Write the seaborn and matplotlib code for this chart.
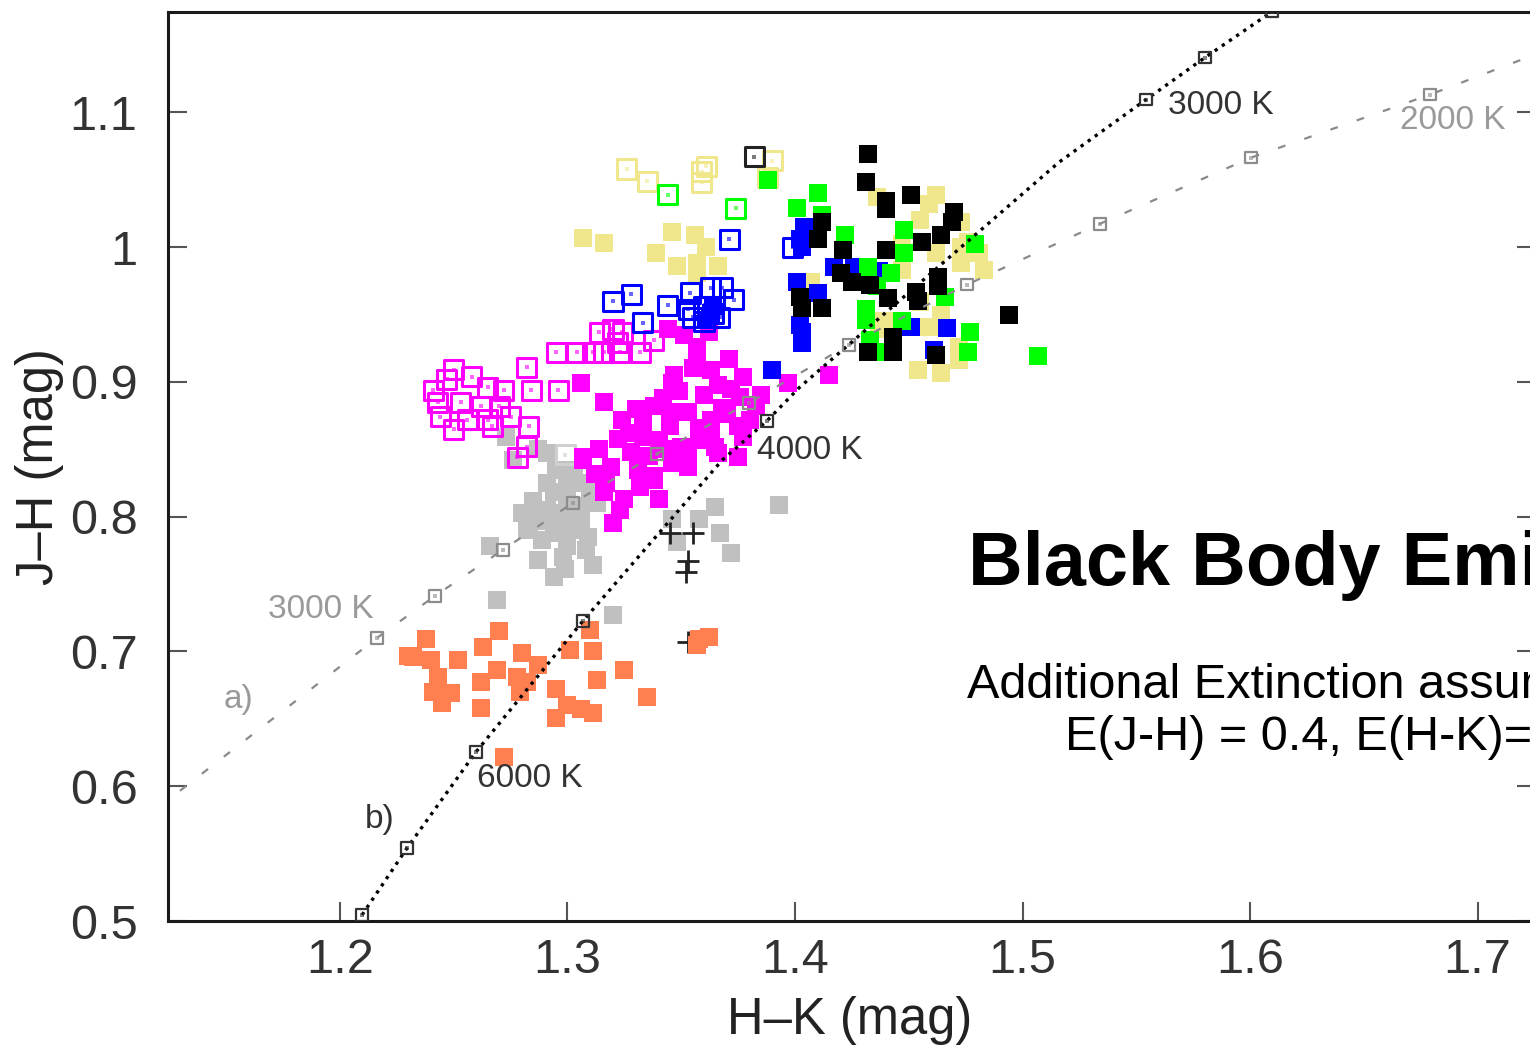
import matplotlib
matplotlib.use("Agg")
import matplotlib.pyplot as plt
import seaborn as sns

# ---------------- data (H-K, J-H in mag) ----------------
coral_hk = [1.270,1.238,1.232,1.240,1.252,1.263,1.243,1.241,1.249,1.245,1.262,1.269,1.280,1.287,1.278,1.282,1.279,1.262,1.295,1.295,1.300,1.306,1.311,1.310,1.301,1.311,1.313,1.325,1.335,1.358,1.362,1.357,1.272,1.230]
coral_jh = [0.715,0.709,0.696,0.694,0.694,0.703,0.681,0.670,0.669,0.662,0.677,0.686,0.699,0.690,0.681,0.677,0.670,0.658,0.672,0.651,0.660,0.657,0.654,0.716,0.701,0.700,0.679,0.686,0.666,0.709,0.711,0.705,0.622,0.697]

grey_hk = [1.291,1.300,1.294,1.306,1.287,1.297,1.306,1.294,1.287,1.294,1.311,1.300,1.266,1.269,1.320,1.365,1.358,1.346,1.348,1.367,1.372,1.393,1.287,1.289,1.309,1.313,1.273,1.276,1.303,1.310,1.291,1.283,1.301,1.299,
           1.295,1.291,1.300,1.285,1.303,1.296,1.290,1.305,1.298,1.308,1.282,1.280]
grey_jh = [0.847,0.827,0.818,0.825,0.798,0.803,0.798,0.788,0.768,0.755,0.764,0.778,0.778,0.738,0.727,0.807,0.798,0.798,0.781,0.788,0.773,0.809,0.850,0.783,0.785,0.810,0.859,0.842,0.835,0.820,0.805,0.794,0.790,0.761,
           0.835,0.825,0.815,0.812,0.800,0.793,0.797,0.808,0.770,0.775,0.790,0.803]
grey_open_hk = [1.299]
grey_open_jh = [0.846]

cross_hk = [1.345,1.355,1.353,1.352,1.353]
cross_jh = [0.788,0.788,0.767,0.759,0.707]

mag_f_hk = [1.344,1.306,1.316,1.357,1.371,1.363,1.377,1.346,1.349,1.366,1.397,1.338,1.353,1.368,1.383,1.376,1.324,1.333,1.345,1.363,1.375,1.377,1.327,1.363,1.366,1.375,1.353,1.343,1.333,1.314,1.307,1.319,1.331,1.338,1.353,1.317,1.325,1.316,1.340,1.338,1.320,1.415,1.357,1.351,1.362,1.358,1.340,1.307,
            1.330,1.345,1.358,1.370,1.350,1.336,1.322,1.360,1.372,1.385,1.347,1.355,1.342,1.328,1.346,1.365,1.380,1.332,1.312,1.323]
mag_f_jh = [0.939,0.899,0.885,0.922,0.917,0.909,0.904,0.899,0.893,0.898,0.899,0.882,0.878,0.881,0.882,0.889,0.872,0.872,0.867,0.872,0.867,0.859,0.862,0.862,0.847,0.844,0.844,0.850,0.859,0.850,0.842,0.837,0.835,0.830,0.837,0.825,0.813,0.818,0.813,0.827,0.795,0.905,0.926,0.935,0.937,0.857,0.857,0.844,
            0.880,0.878,0.866,0.876,0.852,0.845,0.858,0.890,0.895,0.890,0.905,0.910,0.888,0.848,0.840,0.852,0.872,0.822,0.832,0.805]

mag_o_hk = [1.295,1.282,1.304,1.311,1.296,1.284,1.250,1.267,1.283,1.282,1.278,1.244,1.247,1.250,1.258,1.265,1.272,1.241,1.243,1.253,1.262,1.270,1.275,1.256,1.265,1.314,1.324,1.316,1.323,1.332,1.338,1.322,1.320]
mag_o_jh = [0.922,0.911,0.922,0.922,0.894,0.894,0.865,0.867,0.867,0.852,0.844,0.874,0.902,0.909,0.904,0.896,0.894,0.894,0.885,0.885,0.882,0.882,0.874,0.872,0.872,0.937,0.937,0.922,0.922,0.922,0.931,0.929,0.939]

kha_f_hk = [1.307,1.316,1.346,1.356,1.339,1.361,1.348,1.357,1.366,1.357,1.462,1.459,1.455,1.473,1.476,1.473,1.447,1.462,1.481,1.483,1.473,1.447,1.407,1.455,1.464,1.439,1.459,1.472,1.472,1.454,1.464,1.436,1.437]
kha_f_jh = [1.007,1.003,1.011,1.009,0.996,1.000,0.986,0.988,0.986,0.981,1.039,1.032,1.020,1.019,1.004,1.000,1.002,0.996,0.996,0.983,0.988,0.983,0.974,0.959,0.950,0.945,0.941,0.926,0.916,0.909,0.907,1.037,0.939]
kha_o_hk = [1.326,1.335,1.359,1.361,1.359,1.390,1.388]
kha_o_jh = [1.058,1.049,1.056,1.060,1.048,1.064,1.052]

blue_o_hk = [1.371,1.399,1.320,1.328,1.333,1.344,1.354,1.363,1.368,1.373,1.353,1.360,1.364,1.355,1.367,1.360]
blue_o_jh = [1.006,1.000,0.960,0.965,0.944,0.957,0.966,0.970,0.970,0.961,0.954,0.956,0.951,0.948,0.948,0.945]
blue_f_hk = [1.364,1.363,1.361,1.390,1.404,1.403,1.417,1.426,1.401,1.403,1.403,1.451,1.467,1.461,1.437,1.410,1.402,1.402]
blue_f_jh = [0.956,0.951,0.946,0.909,1.015,1.000,0.985,0.985,0.974,0.937,0.929,0.941,0.940,0.924,0.982,0.966,0.942,1.006]

grn_f_hk = [1.410,1.401,1.412,1.422,1.448,1.479,1.432,1.436,1.442,1.431,1.447,1.431,1.466,1.477,1.507,1.433,1.435,1.476,1.448,1.388]
grn_f_jh = [1.040,1.029,1.024,1.009,1.013,1.002,0.985,0.971,0.981,0.954,0.945,0.946,0.963,0.937,0.919,0.931,0.922,0.922,0.996,1.050]
grn_o_hk = [1.344,1.374]
grn_o_jh = [1.039,1.029]

blk_f_hk = [1.432,1.431,1.440,1.451,1.440,1.470,1.469,1.464,1.456,1.412,1.410,1.421,1.440,1.420,1.425,1.433,1.441,1.453,1.454,1.463,1.463,1.402,1.403,1.412,1.432,1.443,1.443,1.462,1.494]
blk_f_jh = [1.069,1.048,1.034,1.039,1.028,1.026,1.019,1.009,1.004,1.019,1.006,0.998,0.998,0.981,0.974,0.972,0.962,0.967,0.960,0.978,0.971,0.963,0.955,0.955,0.922,0.922,0.933,0.920,0.950]
blk_o_hk = [1.382]
blk_o_jh = [1.067]

# black body tracks
a_hk = [1.120,1.2163,1.2418,1.2716,1.3024,1.3393,1.3798,1.4237,1.4756,1.5341,1.6004,1.6791,1.730]
a_jh = [0.584,0.7101,0.7413,0.7754,0.8103,0.8467,0.8846,0.9276,0.9722,1.0174,1.0664,1.1132,1.146]
a_mk_hk = a_hk[1:-1]
a_mk_jh = a_jh[1:-1]

b_hk = [1.2097,1.2295,1.2598,1.3068,1.368,1.3877,1.402,1.516,1.5543,1.5802,1.6097]
b_jh = [0.5045,0.5542,0.6255,0.7227,0.842,0.8712,0.896,1.063,1.1095,1.1407,1.1748]
b_mk_hk = [1.2097,1.2295,1.2598,1.3068,1.3877,1.5543,1.5802,1.6097]
b_mk_jh = [0.5045,0.5542,0.6255,0.7227,0.8712,1.1095,1.1407,1.1748]

x_ticks = [1.2, 1.3, 1.4, 1.5, 1.6, 1.7]
x_ticklabels = ["1.2", "1.3", "1.4", "1.5", "1.6", "1.7"]
y_ticks = [0.5, 0.6, 0.7, 0.8, 0.9, 1.0, 1.1]
y_ticklabels = ["0.5", "0.6", "0.7", "0.8", "0.9", "1", "1.1"]

# ---------------- style ----------------
sns.set_theme(style="white")
plt.rcParams['font.family'] = ['Liberation Sans', 'DejaVu Sans']

fig = plt.figure(figsize=(15.3, 10.52), dpi=100)
ax = fig.add_axes([0.10980, 0.12452, 0.89412, 0.86407])

C_KHAKI = "#F0E68C"
C_GREEN = "#00FF00"
C_BLUE = "#0000FF"
C_MAG = "#FF00FF"
C_GREY = "#C0C0C0"
C_CORAL = "#FF7F50"
C_BLACK = "#000000"


def filled(hk, jh, color, z=3):
    sns.scatterplot(x=hk, y=jh, marker="s", s=169, color=color, linewidth=0,
                    ax=ax, zorder=z, legend=False)


def opened(hk, jh, color, z=3, s=188, lw=2.2, dot=9):
    sns.scatterplot(x=hk, y=jh, marker="s", s=s, color=color, facecolor="none",
                    edgecolor=color, linewidth=lw, ax=ax, zorder=z, legend=False)
    sns.scatterplot(x=hk, y=jh, marker="s", s=dot, color=color, linewidth=0,
                    alpha=0.6, ax=ax, zorder=z, legend=False)


filled(grey_hk, grey_jh, C_GREY)
opened(grey_open_hk, grey_open_jh, "#D0D0D0")
sns.scatterplot(x=cross_hk, y=cross_jh, marker="+", s=230, color="#222222",
                linewidth=2.0, ax=ax, zorder=3, legend=False)
filled(coral_hk, coral_jh, C_CORAL)
filled(mag_f_hk, mag_f_jh, C_MAG)
opened(mag_o_hk, mag_o_jh, C_MAG)
filled(kha_f_hk, kha_f_jh, C_KHAKI)
opened(kha_o_hk, kha_o_jh, C_KHAKI)
opened(blue_o_hk, blue_o_jh, C_BLUE)
filled(blue_f_hk, blue_f_jh, C_BLUE)
filled(grn_f_hk, grn_f_jh, C_GREEN)
opened(grn_o_hk, grn_o_jh, C_GREEN)
filled(blk_f_hk, blk_f_jh, C_BLACK)
opened(blk_o_hk, blk_o_jh, "#222222")

# tracks
sns.lineplot(x=a_hk, y=a_jh, sort=False, estimator=None, color="#8a8a8a",
             linewidth=1.6, linestyle=(0, (3.5, 9.0)), ax=ax, zorder=5, legend=False)
sns.lineplot(x=b_hk, y=b_jh, sort=False, estimator=None, color="#000000",
             linewidth=2.4, linestyle=(0, (1, 1.6)), ax=ax, zorder=5, legend=False)
opened(a_mk_hk, a_mk_jh, "#8c8c8c", z=6, s=70, lw=1.6, dot=5)
opened(b_mk_hk, b_mk_jh, "#333333", z=6, s=70, lw=1.6, dot=5)

# labels on tracks
lab_kw = dict(fontsize=24, ha="left", va="center", zorder=7)
ax.text(1.1684, 0.731, "3000 K", color="#9a9a9a", **lab_kw)
ax.text(1.149, 0.664, "a)", color="#9a9a9a", **lab_kw)
ax.text(1.666, 1.094, "2000 K", color="#9a9a9a", **lab_kw)
ax.text(1.211, 0.575, "b)", color="#333333", **lab_kw)
ax.text(1.2602, 0.6054, "6000 K", color="#333333", **lab_kw)
ax.text(1.3833, 0.8489, "4000 K", color="#333333", **lab_kw)
ax.text(1.564, 1.105, "3000 K", color="#333333", **lab_kw)

# annotation text
ax.text(1.476, 0.7494, "Black Body Emission", fontsize=54.5, fontweight="bold",
        color="black", ha="left", va="baseline", zorder=8)
ax.text(1.4755, 0.6656, "Additional Extinction assumed:", fontsize=35,
        color="black", ha="left", va="baseline", zorder=8)
ax.text(1.5185, 0.627, "E(J-H) = 0.4, E(H-K)=0.2", fontsize=35,
        color="black", ha="left", va="baseline", zorder=8)

# axes
ax.set_xlim(1.1244, 1.7257)
ax.set_ylim(0.5, 1.1745)
ax.set_xticks(x_ticks)
ax.set_xticklabels(x_ticklabels)
ax.set_yticks(y_ticks)
ax.set_yticklabels(y_ticklabels)
ax.tick_params(axis="both", direction="in", length=13.7, width=1.5,
               color="#555555", labelsize=35, labelcolor="#333333")
ax.tick_params(axis="y", right=True, left=True, pad=22)
ax.tick_params(axis="x", top=False, bottom=True, pad=12)
for sp in ax.spines.values():
    sp.set_visible(True)
    sp.set_linewidth(2.2)
    sp.set_color("#1a1a1a")

ax.set_xlabel("H\u2013K (mag)", fontsize=36.5, color="#222222")
ax.set_ylabel("J\u2013H (mag)", fontsize=36.5, color="#222222")
ax.xaxis.set_label_coords(0.4985, -0.083)
ax.yaxis.set_label_coords(-0.076, 0.5)

fig.savefig("out.png", dpi=100)
